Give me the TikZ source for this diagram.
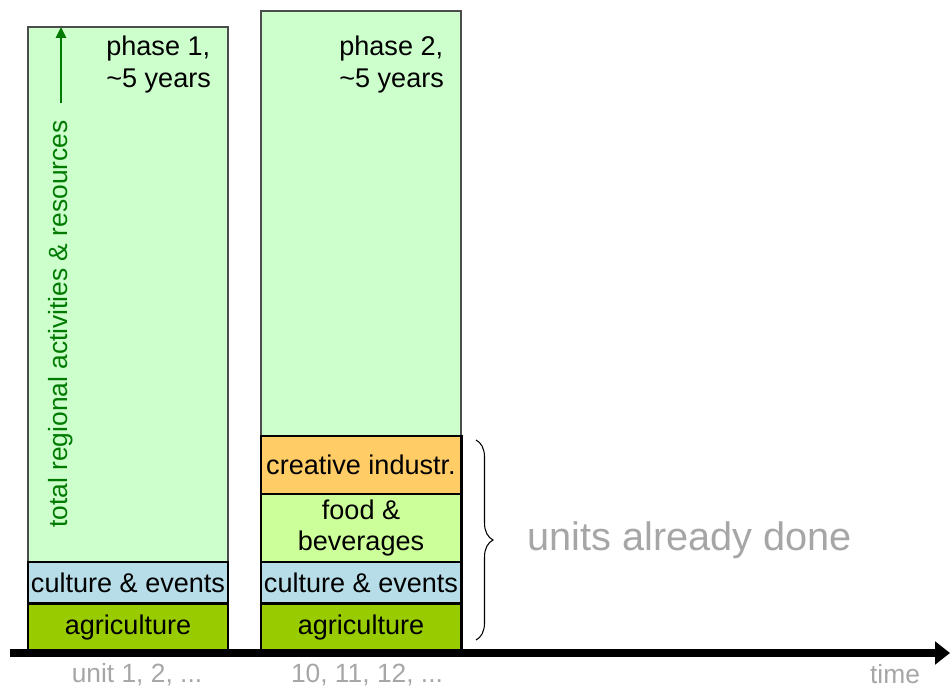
\documentclass[tikz,border=0pt]{standalone}
\usepackage{fontspec}
\setmainfont{Liberation Sans}
\usepackage{tikz}
\usetikzlibrary{positioning,arrows.meta,decorations.pathreplacing}

\definecolor{phasegreen}{HTML}{CCFFCC}
\definecolor{agrigreen}{HTML}{99CC00}
\definecolor{cultureblue}{HTML}{B7DEE8}
\definecolor{foodgreen}{HTML}{CCFF99}
\definecolor{creativeorange}{HTML}{FFCC66}
\definecolor{labelgray}{HTML}{A6A6A6}
\definecolor{arrowgreen}{HTML}{007A00}

\tikzset{
 phasebox/.style={draw=black!70, line width=0.6pt, fill=phasegreen, minimum width=4cm, outer sep=0pt, anchor=south},
 unitbox/.style={draw=black, line width=1.7pt, minimum width=4cm, outer sep=0pt, inner sep=0pt, align=center, font=\fontsize{15.4}{18}\selectfont},
 phasetext/.style={anchor=north west, align=left, inner sep=0pt, font=\fontsize{15.4}{17.8}\selectfont},
 axislabel/.style={text=labelgray, inner sep=0pt, font=\fontsize{15}{18}\selectfont},
}

\begin{document}
\begin{tikzpicture}
\useasboundingbox (0,0) rectangle (19,13.76);

% the two phases
\node[phasebox, minimum height=10.7cm] (phase1) at (2.56,2.52) {};
\node[phasebox, minimum height=8.5cm] (phase2) at (7.22,5.04) {};

\node[phasetext] (phase1txt) at (2.12,13.04) {phase 1,\\\textasciitilde5 years};
\node[phasetext] (phase2txt) at (6.78,13.04) {phase 2,\\\textasciitilde5 years};

% units of phase 1
\node[unitbox, fill=agrigreen, minimum height=0.98cm, anchor=south] (agri1) at (2.56,0.72) {agriculture};
\node[unitbox, fill=cultureblue, minimum height=0.82cm, above=0pt of agri1] (cult1) {culture \& events};

% units of phase 2
\node[unitbox, fill=agrigreen, minimum height=0.98cm, anchor=south] (agri2) at (7.22,0.72) {agriculture};
\node[unitbox, fill=cultureblue, minimum height=0.82cm, above=0pt of agri2] (cult2) {culture \& events};
\node[unitbox, fill=foodgreen, minimum height=1.36cm, above=0pt of cult2] (food2) {food \&\\beverages};
\node[unitbox, fill=creativeorange, minimum height=1.16cm, above=0pt of food2] (crea2) {creative industr.};

% vertical axis inside phase 1
\coordinate (up0) at (1.22,11.7);
\coordinate (up1) at (1.22,13.22);
\draw[arrowgreen, line width=1.5pt, -{Triangle[length=0.22cm,width=0.2cm]}] (up0) -- (up1);
\node[rotate=90, text=arrowgreen, font=\fontsize{15}{18}\selectfont] (total) at (1.22,7.28) {total regional activities \& resources};

% time axis
\coordinate (t0) at (0.2,0.7);
\coordinate (t1) at (19,0.7);
\draw[line width=4pt, -{Triangle[length=0.3cm,width=0.45cm]}] (t0) -- (t1);
\node[axislabel] (lab1) at (2.74,0.27) {unit 1, 2, ...};
\node[axislabel] (lab2) at (7.34,0.27) {10, 11, 12, ...};
\node[axislabel] (time) at (17.9,0.27) {time};

% units done so far
\coordinate (br0) at (9.52,4.96);
\coordinate (br1) at (9.52,0.96);
\draw[line width=0.6pt, decorate, decoration={brace, amplitude=0.34cm}] (br0) -- (br1);
\node[text=labelgray, font=\fontsize{22.6}{27}\selectfont] (done) at (13.79,2.96) {units already done};

\end{tikzpicture}
\end{document}
